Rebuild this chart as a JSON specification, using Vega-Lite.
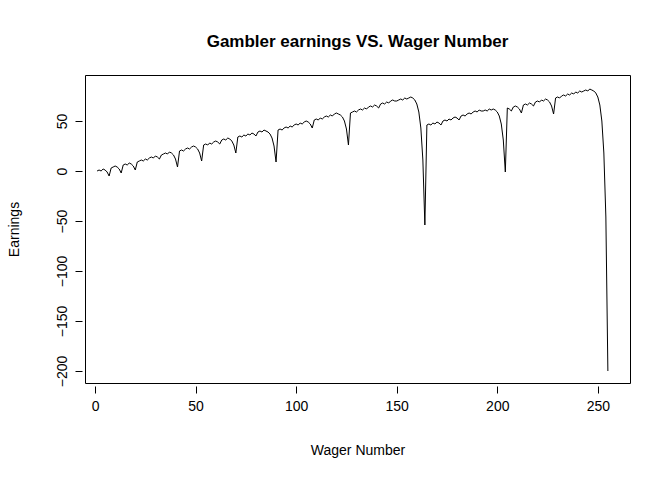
{
  "$schema": "https://vega.github.io/schema/vega-lite/v6.json",
  "autosize": {"type": "none"},
  "padding": {"left": 85, "top": 75, "right": 42, "bottom": 97},
  "width": 545,
  "height": 308,
  "config": {
    "font": "Liberation Sans",
    "view": {"stroke": "black", "strokeWidth": 1},
    "axis": {"grid": false, "domain": false, "tickColor": "black", "tickSize": 7, "labelColor": "black", "titleColor": "black", "labelFontSize": 14, "titleFontSize": 14, "titleFontWeight": "normal"}
  },
  "title": {"text": "Gambler earnings VS. Wager Number", "fontSize": 17, "fontWeight": "bold", "color": "black", "offset": 24},
  "data": {"values": [
    {"x":1,"y":0},{"x":2,"y":1},{"x":3,"y":0},{"x":4,"y":2},{"x":5,"y":1},{"x":6,"y":-1},{"x":7,"y":-5},{"x":8,"y":3},{"x":9,"y":4},{"x":10,"y":5},
    {"x":11,"y":4},{"x":12,"y":2},{"x":13,"y":-2},{"x":14,"y":6},{"x":15,"y":7},{"x":16,"y":6},{"x":17,"y":8},{"x":18,"y":7},{"x":19,"y":5},{"x":20,"y":1},
    {"x":21,"y":9},{"x":22,"y":10},{"x":23,"y":11},{"x":24,"y":10},{"x":25,"y":12},{"x":26,"y":11},{"x":27,"y":13},{"x":28,"y":14},{"x":29,"y":13},{"x":30,"y":15},
    {"x":31,"y":14},{"x":32,"y":12},{"x":33,"y":16},{"x":34,"y":17},{"x":35,"y":18},{"x":36,"y":17},{"x":37,"y":19},{"x":38,"y":18},{"x":39,"y":16},{"x":40,"y":12},
    {"x":41,"y":4},{"x":42,"y":20},{"x":43,"y":21},{"x":44,"y":20},{"x":45,"y":22},{"x":46,"y":23},{"x":47,"y":22},{"x":48,"y":24},{"x":49,"y":25},{"x":50,"y":24},
    {"x":51,"y":22},{"x":52,"y":18},{"x":53,"y":10},{"x":54,"y":26},{"x":55,"y":27},{"x":56,"y":26},{"x":57,"y":28},{"x":58,"y":27},{"x":59,"y":29},{"x":60,"y":30},
    {"x":61,"y":29},{"x":62,"y":27},{"x":63,"y":31},{"x":64,"y":32},{"x":65,"y":31},{"x":66,"y":33},{"x":67,"y":32},{"x":68,"y":30},{"x":69,"y":26},{"x":70,"y":18},
    {"x":71,"y":34},{"x":72,"y":35},{"x":73,"y":34},{"x":74,"y":36},{"x":75,"y":35},{"x":76,"y":37},{"x":77,"y":36},{"x":78,"y":38},{"x":79,"y":37},{"x":80,"y":35},
    {"x":81,"y":39},{"x":82,"y":40},{"x":83,"y":39},{"x":84,"y":41},{"x":85,"y":40},{"x":86,"y":39},{"x":87,"y":37},{"x":88,"y":33},{"x":89,"y":25},{"x":90,"y":9},
    {"x":91,"y":41},{"x":92,"y":42},{"x":93,"y":41},{"x":94,"y":43},{"x":95,"y":44},{"x":96,"y":43},{"x":97,"y":45},{"x":98,"y":44},{"x":99,"y":46},{"x":100,"y":47},
    {"x":101,"y":46},{"x":102,"y":48},{"x":103,"y":47},{"x":104,"y":49},{"x":105,"y":50},{"x":106,"y":49},{"x":107,"y":47},{"x":108,"y":43},{"x":109,"y":51},{"x":110,"y":52},
    {"x":111,"y":51},{"x":112,"y":53},{"x":113,"y":52},{"x":114,"y":54},{"x":115,"y":55},{"x":116,"y":54},{"x":117,"y":56},{"x":118,"y":55},{"x":119,"y":57},{"x":120,"y":58},
    {"x":121,"y":57},{"x":122,"y":56},{"x":123,"y":54},{"x":124,"y":50},{"x":125,"y":42},{"x":126,"y":26},{"x":127,"y":58},{"x":128,"y":59},{"x":129,"y":60},{"x":130,"y":59},
    {"x":131,"y":61},{"x":132,"y":62},{"x":133,"y":61},{"x":134,"y":63},{"x":135,"y":62},{"x":136,"y":64},{"x":137,"y":65},{"x":138,"y":64},{"x":139,"y":66},{"x":140,"y":65},
    {"x":141,"y":63},{"x":142,"y":67},{"x":143,"y":68},{"x":144,"y":67},{"x":145,"y":69},{"x":146,"y":68},{"x":147,"y":70},{"x":148,"y":71},{"x":149,"y":70},{"x":150,"y":70},
    {"x":151,"y":71},{"x":152,"y":72},{"x":153,"y":71},{"x":154,"y":73},{"x":155,"y":72},{"x":156,"y":73},{"x":157,"y":74},{"x":158,"y":73},{"x":159,"y":71},{"x":160,"y":67},
    {"x":161,"y":59},{"x":162,"y":43},{"x":163,"y":11},{"x":164,"y":-54},{"x":165,"y":46},{"x":166,"y":47},{"x":167,"y":46},{"x":168,"y":48},{"x":169,"y":47},{"x":170,"y":49},
    {"x":171,"y":48},{"x":172,"y":46},{"x":173,"y":50},{"x":174,"y":51},{"x":175,"y":50},{"x":176,"y":52},{"x":177,"y":51},{"x":178,"y":53},{"x":179,"y":54},{"x":180,"y":53},
    {"x":181,"y":51},{"x":182,"y":55},{"x":183,"y":56},{"x":184,"y":55},{"x":185,"y":57},{"x":186,"y":58},{"x":187,"y":57},{"x":188,"y":59},{"x":189,"y":60},{"x":190,"y":59},
    {"x":191,"y":61},{"x":192,"y":60},{"x":193,"y":60},{"x":194,"y":61},{"x":195,"y":60},{"x":196,"y":62},{"x":197,"y":61},{"x":198,"y":62},{"x":199,"y":61},{"x":200,"y":59},
    {"x":201,"y":55},{"x":202,"y":47},{"x":203,"y":31},{"x":204,"y":-1},{"x":205,"y":63},{"x":206,"y":62},{"x":207,"y":60},{"x":208,"y":64},{"x":209,"y":65},{"x":210,"y":64},
    {"x":211,"y":62},{"x":212,"y":58},{"x":213,"y":66},{"x":214,"y":67},{"x":215,"y":66},{"x":216,"y":68},{"x":217,"y":67},{"x":218,"y":65},{"x":219,"y":69},{"x":220,"y":70},
    {"x":221,"y":69},{"x":222,"y":71},{"x":223,"y":70},{"x":224,"y":72},{"x":225,"y":71},{"x":226,"y":69},{"x":227,"y":65},{"x":228,"y":57},{"x":229,"y":73},{"x":230,"y":74},
    {"x":231,"y":73},{"x":232,"y":75},{"x":233,"y":76},{"x":234,"y":75},{"x":235,"y":77},{"x":236,"y":76},{"x":237,"y":78},{"x":238,"y":77},{"x":239,"y":79},{"x":240,"y":78},
    {"x":241,"y":80},{"x":242,"y":79},{"x":243,"y":80},{"x":244,"y":81},{"x":245,"y":80},{"x":246,"y":82},{"x":247,"y":81},{"x":248,"y":80},{"x":249,"y":78},{"x":250,"y":74},
    {"x":251,"y":66},{"x":252,"y":50},{"x":253,"y":18},{"x":254,"y":-46},{"x":255,"y":-200}
  ]},
  "mark": {"type": "line", "color": "black", "strokeWidth": 1},
  "encoding": {
    "x": {"field": "x", "type": "quantitative", "title": "Wager Number",
      "scale": {"domain": [-5, 266], "nice": false, "zero": false},
      "axis": {"values": [0, 50, 100, 150, 200, 250], "offset": 3, "titlePadding": 30, "labelPadding": 6}},
    "y": {"field": "y", "type": "quantitative", "title": "Earnings",
      "scale": {"domain": [-212, 96], "nice": false, "zero": false},
      "axis": {"values": [-200, -150, -100, -50, 0, 50], "offset": 3, "labelAngle": -90, "labelAlign": "center", "labelBaseline": "bottom", "labelPadding": 6, "titlePadding": 34}}
  }
}
